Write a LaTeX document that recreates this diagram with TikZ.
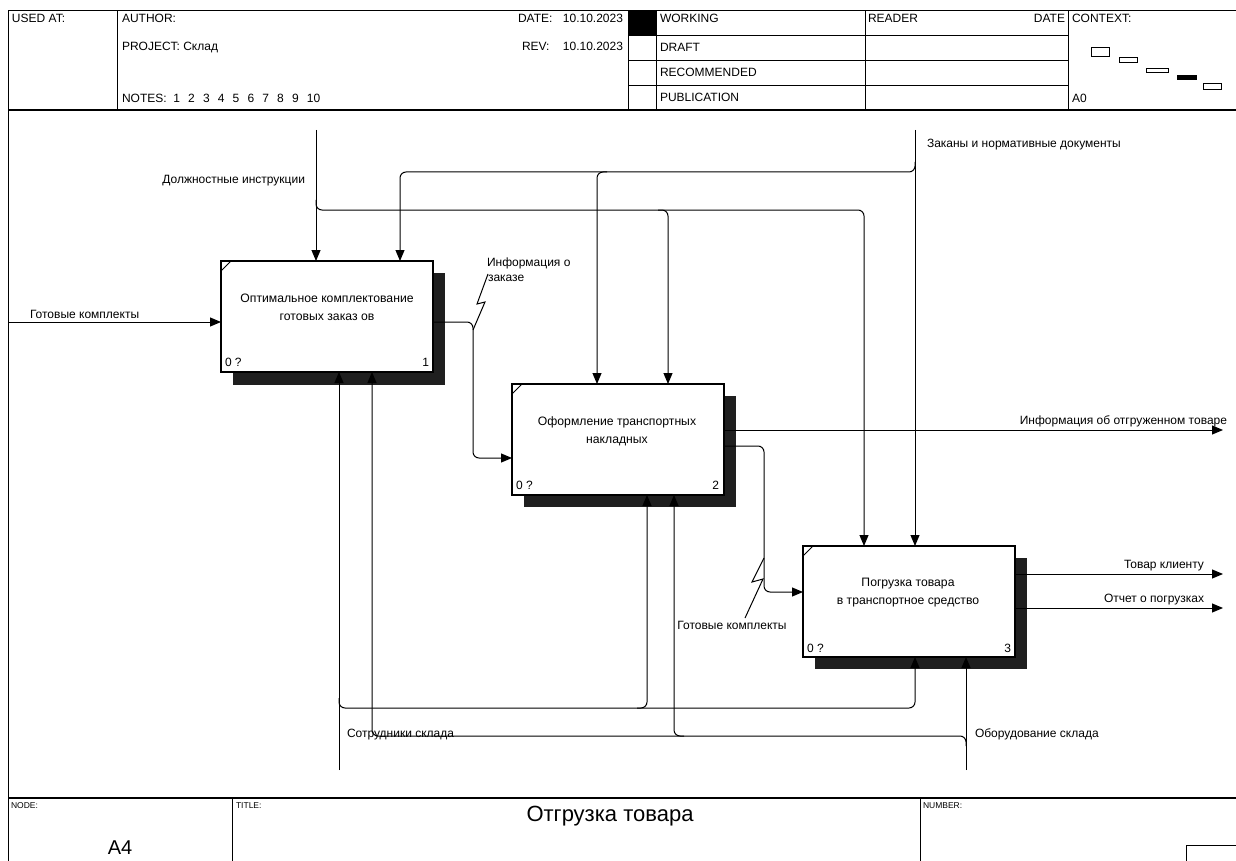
\documentclass[tikz,border=0pt]{standalone}
\usepackage{fontspec}
\setmainfont{Liberation Sans}
\usetikzlibrary{arrows.meta}
\begin{document}
\begin{tikzpicture}[x=1pt,y=-1pt,
  every node/.style={inner sep=0pt, outer sep=0pt, font=\fontsize{12}{14}\selectfont},
  frm/.style={line width=1pt},
  thk/.style={line width=2pt},
  ln/.style={line width=1pt},
  arr/.style={line width=1pt, -{Triangle[length=11pt,width=9pt]}},
  rc/.style={rounded corners=6pt},
  box/.style={draw, line width=1.6pt, fill=white, minimum width=212pt, minimum height=111pt, anchor=north west},
  shad/.style={fill=black!88},
  lw/.style={anchor=base west},
  le/.style={anchor=base east},
  btxt/.style={align=center, font=\fontsize{12.2}{18}\selectfont},
  big/.style={font=\fontsize{22}{24}\selectfont},
  anodest/.style={font=\fontsize{20}{22}\selectfont},
  small/.style={anchor=base west, font=\fontsize{8.5}{10}\selectfont},
]
\useasboundingbox (0,0) rectangle (1236,861);
% ---------- frame & header ----------
\draw[frm] (8,861) -- (8,11) -- (1236,11);
\draw[thk] (8,110) -- (1236,110);
\draw[frm] (117,11) -- (117,110);
\draw[frm] (628,11) -- (628,110);
\draw[frm] (656,11) -- (656,110);
\draw[frm] (865,11) -- (865,110);
\draw[frm] (1068,11) -- (1068,110);
\foreach \yy in {36,61,86} \draw[frm] (628,\yy) -- (1068,\yy);
\fill (628,11) rectangle (656,36);
\node[lw] (usedat) at (12,23) {USED AT:};
\node[lw] (author) at (122,23) {AUTHOR:};
\node[lw] (project) at (122,51) {PROJECT:\ Склад};
\node[lw] (notes) at (122,103) {NOTES:\ \ 1\ \ \kern1.5pt 2\ \ \kern1.5pt 3\ \ \kern1.5pt 4\ \ \kern1.5pt 5\ \ \kern1.5pt 6\ \ \kern1.5pt 7\ \ \kern1.5pt 8\ \ \kern1.5pt 9\ \ \kern1.5pt 10};
\node[lw] (datel) at (518,23) {DATE:};
\node[le] (datev) at (623,23) {10.10.2023};
\node[lw] (revl) at (522,51) {REV:};
\node[le] (revv) at (623,51) {10.10.2023};
\node[lw] (working) at (660,23) {WORKING};
\node[lw] (draft) at (660,52) {DRAFT};
\node[lw] (recom) at (660,77) {RECOMMENDED};
\node[lw] (publ) at (660,102) {PUBLICATION};
\node[lw] (reader) at (868,23) {READER};
\node[le] (rdate) at (1065,23) {DATE};
\node[lw] (context) at (1072,23) {CONTEXT:};
\node[lw] (azero) at (1072,103) {A0};
\draw[ln] (1091,48) rectangle (1109,57);
\draw[ln] (1119,58) rectangle (1137,63);
\draw[ln] (1146,69) rectangle (1168,73);
\fill (1177,75) rectangle (1197,80);
\draw[ln] (1203,84) rectangle (1221,90);
% ---------- footer ----------
\draw[thk] (8,798) -- (1236,798);
\draw[frm] (232,798) -- (232,861);
\draw[frm] (920,798) -- (920,861);
\draw[frm] (1186,861) -- (1186,845) -- (1236,845);
\node[small] (nodel) at (11,808) {NODE:};
\node[small] (titlel) at (236,808) {TITLE:};
\node[small] (numberl) at (923,808) {NUMBER:};
\node[big] (title) at (610,816) {Отгрузка товара};
\node[anodest] (anode) at (120,848) {A4};
% ---------- shadows & boxes ----------
\fill[shad] (233,273) rectangle (445,385);
\fill[shad] (524,396) rectangle (736,507);
\fill[shad] (815,558) rectangle (1027,669);
\node[box] (b1) at (221,261) {};
\node[box] (b2) at (512,384) {};
\node[box] (b3) at (803,546) {};
\foreach \b in {b1,b2,b3}
  \draw[ln] ([yshift=-10pt]\b.north west) -- ([xshift=10pt]\b.north west);
\node[btxt] (t1) at (327,307) {Оптимальное комплектование\\готовых заказ ов};
\node[btxt] (t2) at (617,431) {Оформление транспортных\\накладных};
\node[btxt] (t3) at (908,593) {Погрузка товара\\в транспортное средство};
\node[lw] (n1a) at (225,366) {0 ?};
\node[le] (n1b) at (429,366) {1};
\node[lw] (n2a) at (516,489) {0 ?};
\node[le] (n2b) at (719,489) {2};
\node[lw] (n3a) at (807,652) {0 ?};
\node[le] (n3b) at (1011,652) {3};
% ---------- input ----------
\coordinate (in1) at (8,322);
\draw[arr] (in1) -- (in1 -| b1.west);
\node[lw] (lin1) at (30,318) {Готовые комплекты};
% ---------- controls ----------
\coordinate (c1) at (316,130);
\draw[arr] (c1) -- (c1 |- b1.north);
\node[le] (lc1) at (305,183) {Должностные инструкции};
\coordinate (k1) at (864,210);
\draw[arr,rc] (316,200) -- (316,210) -- (k1) -- (k1 |- b3.north);
\coordinate (k2) at (668,210);
\draw[arr,rc] (658,210) -- (k2) -- (k2 |- b2.north);
\coordinate (c2) at (915,130);
\draw[arr] (c2) -- (c2 |- b3.north);
\node[lw] (lc2) at (927,148) {Заканы и нормативные документы};
\coordinate (k3) at (400,172);
\draw[arr,rc] (915,162) -- (915,172) -- (k3) -- (k3 |- b1.north);
\coordinate (k4) at (597,172);
\draw[arr,rc] (607,172) -- (k4) -- (k4 |- b2.north);
% ---------- b1 -> b2 ----------
\coordinate (k5) at (473,322);
\coordinate (k6) at (473,458);
\draw[arr,rc] (k5 -| b1.east) -- (k5) -- (k6) -- (k6 -| b2.west);
\draw[ln] (473,330) -- (485,302) -- (477,304) -- (488,274);
\node[lw] (lo1a) at (487,266) {Информация о};
\node[lw] (lo1b) at (488,281) {заказе};
% ---------- b2 outputs ----------
\coordinate (e1) at (1223,430);
\draw[arr] (e1 -| b2.east) -- (e1);
\node[le] (le1) at (1227,424) {Информация об отгруженном товаре};
\coordinate (k7) at (764,446);
\coordinate (k8) at (764,592);
\draw[arr,rc] (k7 -| b2.east) -- (k7) -- (k8) -- (k8 -| b3.west);
\draw[ln] (764,558) -- (752,582) -- (763,579) -- (745,618);
\node[anchor=base] (lo2) at (732,629) {Готовые комплекты};
% ---------- b3 outputs ----------
\coordinate (e2) at (1223,574);
\coordinate (e3) at (1223,608);
\draw[arr] (e2 -| b3.east) -- (e2);
\draw[arr] (e3 -| b3.east) -- (e3);
\node[le] (le2) at (1204,568) {Товар клиенту};
\node[le] (le3) at (1204,602) {Отчет о погрузках};
% ---------- mechanisms ----------
\coordinate (m1) at (339,770);
\draw[arr] (m1) -- (m1 |- b1.south);
\coordinate (k9) at (915,708);
\draw[arr,rc] (339,698) -- (339,708) -- (k9) -- (k9 |- b3.south);
\coordinate (k10) at (647,708);
\draw[arr,rc] (637,708) -- (k10) -- (k10 |- b2.south);
\node[lw] (lm1) at (347,737) {Сотрудники склада};
\coordinate (m2) at (966,770);
\draw[arr] (m2) -- (m2 |- b3.south);
\coordinate (k11) at (372,736);
\draw[arr,rc] (966,746) -- (966,736) -- (k11) -- (k11 |- b1.south);
\coordinate (k12) at (674,736);
\draw[arr,rc] (684,736) -- (k12) -- (k12 |- b2.south);
\node[lw] (lm2) at (975,737) {Оборудование склада};
\end{tikzpicture}
\end{document}
